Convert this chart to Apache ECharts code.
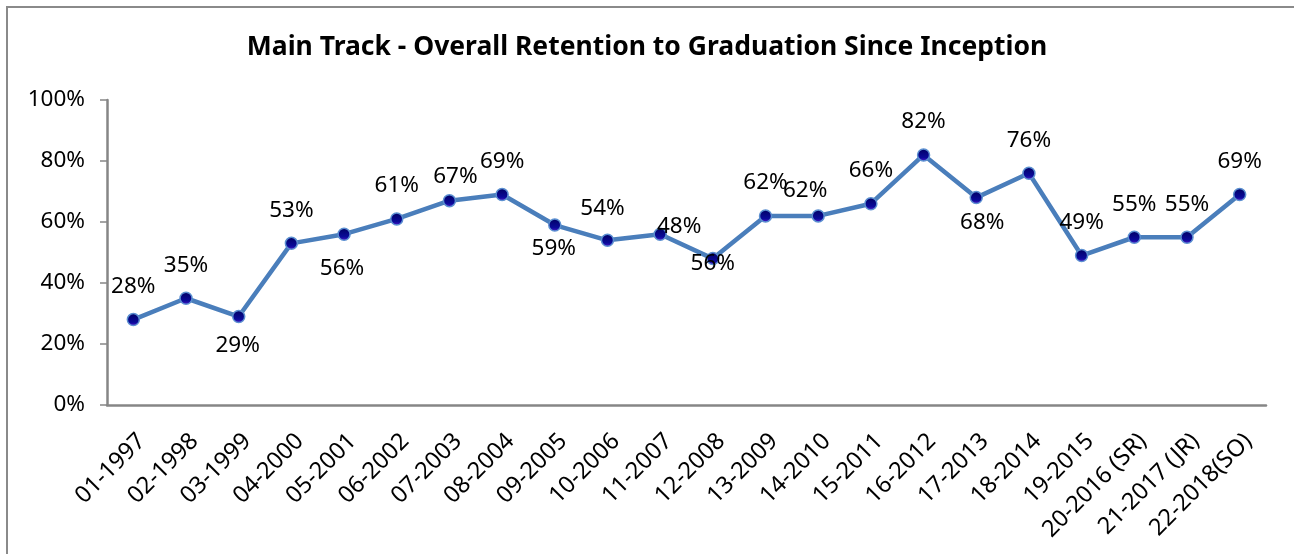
<!DOCTYPE html>
<html style="height: 100%">
   <head>
       <meta charset="utf-8">
   </head>
   <body style="height: 100%; margin: 0; background: #fff">
       <div id="container" style="width: 1294px; height: 554px"></div>
       <script type="text/javascript" src="https://cdn.jsdelivr.net/npm/echarts@6/dist/echarts.min.js"></script>
       <script type="text/javascript">
// data
var cohorts = ['01-1997', '02-1998', '03-1999', '04-2000', '05-2001', '06-2002', '07-2003',
  '08-2004', '09-2005', '10-2006', '11-2007', '12-2008', '13-2009', '14-2010', '15-2011',
  '16-2012', '17-2013', '18-2014', '19-2015', '20-2016 (SR)', '21-2017 (JR)', '22-2018(SO)'];
var retention = [0.28, 0.35, 0.29, 0.53, 0.56, 0.61, 0.67, 0.69, 0.59, 0.54, 0.56, 0.48,
  0.62, 0.62, 0.66, 0.82, 0.68, 0.76, 0.49, 0.55, 0.55, 0.69];
// label text as printed on the chart (11 and 12 are swapped in the original)
var labelText = ['28%', '35%', '29%', '53%', '56%', '61%', '67%', '69%', '59%', '54%', '48%', '56%',
  '62%', '62%', '66%', '82%', '68%', '76%', '49%', '55%', '55%', '69%'];
var yTicks = [0, 0.2, 0.4, 0.6, 0.8, 1];

// label nudges (x, y) from the marker centre
var labelNudge = {
  2: [-1, 29], 4: [-2, 34], 6: [6, -24], 8: [-1, 24], 9: [-5, -32],
  10: [19, -8], 11: [0, 5], 13: [-13, -25], 16: [6, 25]
};

var dom = document.getElementById("container");
var myChart = echarts.init(dom);

var seriesData = retention.map(function (v, i) {
  return {
    value: v,
    label: {
      formatter: labelText[i],
      offset: labelNudge[i] || [0, -33]
    }
  };
});

var axisGrey = '#868686';

option = {
    backgroundColor: '#fff',
    animation: false,
    textStyle: { fontFamily: 'Noto Sans' },
    title: {
        text: 'Main Track - Overall Retention to Graduation Since Inception',
        left: 'center',
        top: 29,
        textStyle: { fontSize: 26.5, fontWeight: 'bold', color: '#000', fontFamily: 'Noto Sans' }
    },
    graphic: [{
        type: 'polyline',
        shape: { points: [[7, 554], [7, 7], [1294, 7]] },
        style: { stroke: '#8a8a8a', lineWidth: 2, fill: null }
    }],
    grid: { left: 107, right: 28, top: 100, bottom: 149 },
    xAxis: {
        type: 'category',
        data: cohorts,
        boundaryGap: true,
        axisLine: { lineStyle: { color: axisGrey, width: 2.5 } },
        axisTick: { length: 6, lineStyle: { color: axisGrey, width: 1.5 } },
        axisLabel: {
            rotate: 45,
            interval: 0,
            margin: 24,
            verticalAlign: 'top',
            fontSize: 23.5,
            color: '#000'
        }
    },
    yAxis: {
        type: 'value',
        min: yTicks[0],
        max: yTicks[yTicks.length - 1],
        interval: 0.2,
        axisLine: { show: true, lineStyle: { color: axisGrey, width: 2.5 } },
        axisTick: { show: true, length: 7, lineStyle: { color: axisGrey, width: 1.5 } },
        splitLine: { show: false },
        axisLabel: {
            margin: 22,
            fontSize: 22.5,
            color: '#000',
            formatter: function (v) { return Math.round(v * 100) + '%'; }
        }
    },
    series: [{
        type: 'line',
        data: seriesData,
        symbol: 'circle',
        symbolSize: 12,
        lineStyle: { color: '#4a7ebb', width: 4.5 },
        itemStyle: {
            color: new echarts.graphic.LinearGradient(0, 0, 0, 1, [
                { offset: 0, color: '#000060' },
                { offset: 0.7, color: '#0a0a9a' },
                { offset: 1, color: '#5a18d0' }
            ]),
            borderColor: '#5b8fd0',
            borderWidth: 1.5
        },
        label: {
            show: true,
            position: 'inside',
            fontSize: 22.5,
            color: '#000',
            fontFamily: 'Noto Sans'
        }
    }]
};

if (option && typeof option === "object") {
    myChart.setOption(option, true);
}
       </script>
   </body>
</html>
